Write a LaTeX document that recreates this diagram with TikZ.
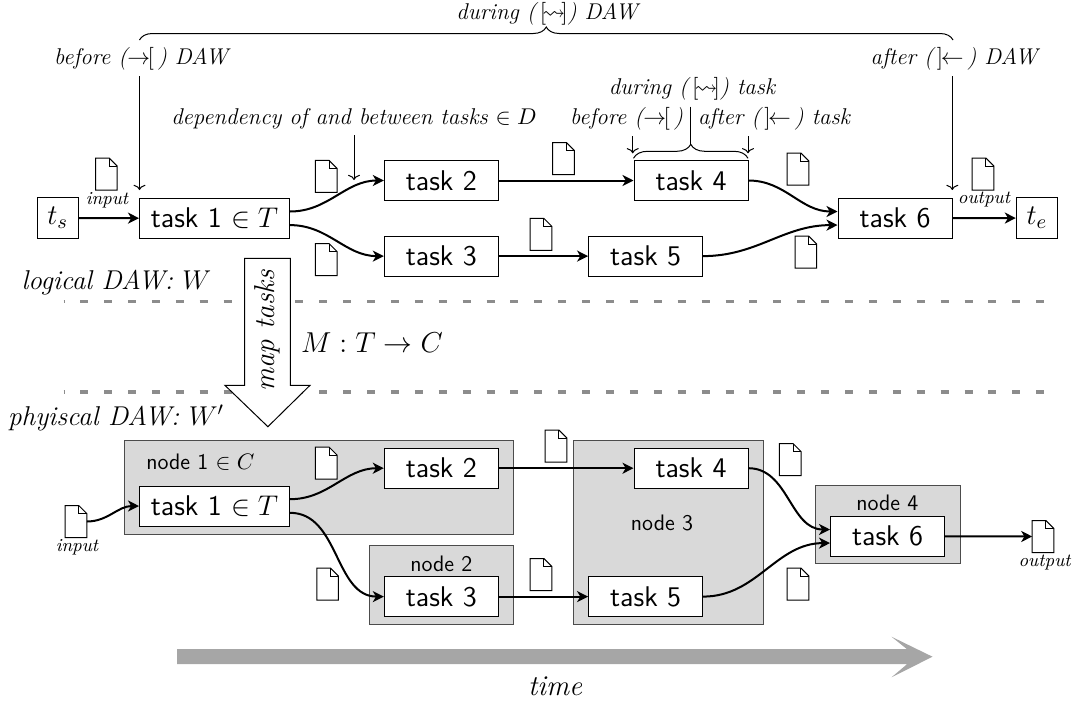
\RequirePackage{fix-cm}
\documentclass[tikz,border=0pt]{standalone}
\usepackage{amsmath,amssymb}
\usetikzlibrary{arrows.meta,decorations.pathreplacing}

\definecolor{boxgray}{HTML}{D9D9D9}
\definecolor{timegray}{HTML}{A6A6A6}
\definecolor{sepgray}{HTML}{8C8C8C}

\newcommand{\tobefore}{$\rightarrow\mkern-7mu[\,$}
\newcommand{\toafter}{$\,]\mkern-7mu\leftarrow\,$}
\newcommand{\toduring}{$\,[\mkern-3mu\rightsquigarrow\mkern-3mu]$}

\tikzset{
    taskbox/.style={draw, line width=.5pt, fill=white, inner sep=0pt, minimum width=57pt, minimum height=20pt, font=\fontsize{14.25}{16}\selectfont\sffamily},
    termbox/.style={draw, line width=.5pt, inner sep=0pt, minimum width=20.5pt, minimum height=20.8pt, font=\fontsize{14.25}{16}\selectfont},
    hostbox/.style={draw=black!70, line width=.5pt, fill=boxgray, inner sep=0pt},
    hostlabel/.style={inner sep=0pt, font=\fontsize{11.2}{13}\selectfont\sffamily},
    note/.style={inner sep=0pt, font=\fontsize{11.4}{13}\selectfont\itshape},
    bignote/.style={inner sep=0pt, font=\fontsize{13.6}{15}\selectfont\itshape},
    tiny label/.style={inner sep=0pt, font=\fontsize{9.2}{10}\selectfont\itshape},
    flow/.style={line width=1pt, -{Stealth[length=5.5pt,width=5.5pt,inset=1.6pt]}},
    hint/.style={line width=.5pt, -{To[length=2.6pt,width=6pt]}},
    level/.style={sepgray, line width=1.75pt, dash pattern=on 4pt off 7.95pt, dash phase=3.7pt},
    docfile/.style={minimum width=10.8pt, minimum height=16pt, inner sep=0pt, outer sep=0pt,
        append after command={\pgfextra{
            \draw[line width=.5pt, fill=white] (\tikzlastnode.south west) -- (\tikzlastnode.north west)
                -- ([xshift=-4pt]\tikzlastnode.north east) -- ([yshift=-4pt]\tikzlastnode.north east)
                -- (\tikzlastnode.south east) -- cycle;
            \draw[line width=.5pt] ([xshift=-4pt]\tikzlastnode.north east) |- ([yshift=-4pt]\tikzlastnode.north east);
        }}},
}

\begin{document}
\begin{tikzpicture}[x=.5pt, y=-.5pt]
    \useasboundingbox (0,0) rectangle (1075,702);

    % separators between the two views
    \coordinate (upleft) at (63.7,301.5);
    \coordinate (upright) at (1045,301.5);
    \coordinate (lowleft) at (63.7,392);
    \coordinate (lowright) at (1045,392);
    \draw [level] (upleft) -- (upright);
    \draw [level] (lowleft) -- (lowright);

    % logical DAW
    \node (ta1) [taskbox, minimum width=75pt] at (214.5,218.3) {task 1 $\in T$};
    \node (ta2) [taskbox, right of=ta1, node distance=113.4pt, yshift=18.9pt] {task 2};
    \node (ta3) [taskbox, right of=ta1, node distance=113.4pt, yshift=-18.9pt] {task 3};
    \node (ta4) [taskbox, right of=ta2, node distance=124.85pt] {task 4};
    \node (ta5) [taskbox, right of=ta3, node distance=102.15pt] {task 5};
    \node (ta6) [taskbox, right of=ta1, node distance=340.25pt] {task 6};
    \node (ts) [termbox] at (57.7,218) {$t_s$};
    \node (te) [termbox] at (1036.8,218) {$t_e$};

    \draw [flow] (ts) -- (ta1);
    \draw [flow] ([yshift=3.4pt]ta1.east) to [out=0, in=180] (ta2.west);
    \draw [flow] ([yshift=-3.4pt]ta1.east) to [out=0, in=180] (ta3.west);
    \draw [flow] (ta2) -- (ta4);
    \draw [flow] (ta3) -- (ta5);
    \draw [flow] (ta4.east) to [out=0, in=180] ([yshift=3.4pt]ta6.west);
    \draw [flow] (ta5.east) to [out=0, in=180] ([yshift=-3.4pt]ta6.west);
    \draw [flow] (ta6) -- (te);

    \node (da1) [docfile] at (106.3,174) {};
    \node (da2) [docfile] at (326.2,176.3) {};
    \node (da3) [docfile] at (326.2,259.5) {};
    \node (da4) [docfile] at (563.5,158.5) {};
    \node (da5) [docfile] at (541,234.3) {};
    \node (da6) [docfile] at (798,169) {};
    \node (da7) [docfile] at (805.8,252) {};
    \node (da8) [docfile] at (983,174) {};
    \node (inlabel) [tiny label] at (107,200) {input};
    \node (outlabel) [tiny label] at (984,200) {output};

    % annotations of the logical DAW
    \node (duringdaw) [note] at (547,14) {during (\toduring) DAW};
    \node (beforedaw) [note] at (141,59) {before (\tobefore) DAW};
    \node (afterdaw) [note] at (954,59) {after (\toafter) DAW};
    \node (dependency) [note] at (354,118.3) {dependency of and between tasks $\in D$};
    \node (duringtask) [note] at (692,89.3) {during (\toduring) task};
    \node (beforetask) [note] at (626.5,119) {before (\tobefore)};
    \node (aftertask) [note] at (774,119) {after (\toafter) task};

    \coordinate (dawleft) at (139.5,40);
    \coordinate (dawright) at (953,40);
    \coordinate (taskleft) at (633.5,158.3);
    \coordinate (taskright) at (748,158.3);
    \coordinate (tasktip) at (690.7,144);
    \coordinate (tasktop) at (690.7,106.7);
    \draw [line width=.5pt, decorate, decoration={brace, amplitude=6.5pt}] (dawleft) -- (dawright);
    \draw [line width=.5pt, decorate, decoration={brace, amplitude=7pt}] (taskleft) -- (taskright);
    \draw [line width=.5pt] (tasktop) -- (tasktip);

    \draw [hint] (139.5,76) -- (139.5,190);
    \draw [hint] (952.3,76) -- (952.3,190);
    \draw [hint] (354,135) -- (354,180);
    \draw [hint] (632.7,136) -- (632.7,153.3);
    \draw [hint] (748,136) -- (748,153.3);

    % the mapping
    \node (logical) [bignote] at (116.4,283) {logical DAW: $W$};
    \node (physical) [bignote] at (116,418) {phyiscal DAW: $W'$};
    \draw [line width=.5pt, fill=white] (244.5,258.3) -- (244.5,385.3) -- (224.9,385.3) -- (267.9,426.7)
        -- (310,385.3) -- (290.3,385.3) -- (290.3,258.3) -- cycle;
    \node (maptasks) [bignote, font=\fontsize{14.4}{16}\selectfont\itshape, rotate=90] at (267.7,330.8) {map tasks};
    \node (mapping) [inner sep=0pt, font=\fontsize{14.4}{16}\selectfont] at (372,343) {$M:T\rightarrow C$};

    % physical DAW
    \node (host1) [hostbox, minimum width=194.9pt, minimum height=47pt] at (318.9,487) {};
    \node (host2) [hostbox, minimum width=72.4pt, minimum height=39.15pt] at (441.4,584.85) {};
    \node (host3) [hostbox, minimum width=95.1pt, minimum height=92pt] at (668.1,532) {};
    \node (host4) [hostbox, minimum width=72.5pt, minimum height=39pt] at (887.5,524.7) {};
    \node (hostlabel1) [hostlabel] at (200.4,462) {node 1 $\in C$};
    \node (hostlabel2) [hostlabel] at (441.3,564) {node 2};
    \node (hostlabel3) [hostlabel] at (662,523.3) {node 3};
    \node (hostlabel4) [hostlabel] at (887.3,502.7) {node 4};

    \node (tb1) [taskbox, minimum width=75pt, below of=ta1, node distance=143.85pt] {task 1 $\in T$};
    \node (tb2) [taskbox, below of=ta2, node distance=143.85pt] {task 2};
    \node (tb3) [taskbox, below of=ta3, node distance=170.25pt] {task 3};
    \node (tb4) [taskbox, below of=ta4, node distance=143.85pt] {task 4};
    \node (tb5) [taskbox, below of=ta5, node distance=170.25pt] {task 5};
    \node (tb6) [taskbox, below of=ta6, node distance=159pt, xshift=-3.75pt] {task 6};

    \node (dbin) [docfile] at (76,521.5) {};
    \node (dbout) [docfile] at (1043,536.5) {};
    \node (db2) [docfile] at (326.2,463) {};
    \node (db3) [docfile] at (327.6,584) {};
    \node (db4) [docfile] at (556,446) {};
    \node (db5) [docfile] at (541,574.5) {};
    \node (db6) [docfile] at (790.2,459.5) {};
    \node (db7) [docfile] at (798,584) {};
    \node (inlabelb) [tiny label] at (77,547) {input};
    \node (outlabelb) [tiny label] at (1044.6,562.7) {output};

    \draw [flow] (dbin.east) to [out=0, in=180] (tb1.west);
    \draw [flow] ([yshift=3.4pt]tb1.east) to [out=0, in=180] (tb2.west);
    \draw [flow] ([yshift=-3.4pt]tb1.east) to [out=0, in=180] (tb3.west);
    \draw [flow] (tb2) -- (tb4);
    \draw [flow] (tb3) -- (tb5);
    \draw [flow] (tb4.east) to [out=0, in=180] ([yshift=3.4pt]tb6.west);
    \draw [flow] (tb5.east) to [out=0, in=180] ([yshift=-3.4pt]tb6.west);
    \draw [flow] (tb6) -- (dbout);

    % time
    \fill [timegray] (177,649.2) -- (907,649.2) -- (891.5,636.7) -- (932.5,656.7) -- (891.5,677.3)
        -- (907,664.2) -- (177,664.2) -- cycle;
    \node (timelabel) [inner sep=0pt, font=\fontsize{14.4}{16}\selectfont\itshape] at (555,686) {time};
\end{tikzpicture}
\end{document}
